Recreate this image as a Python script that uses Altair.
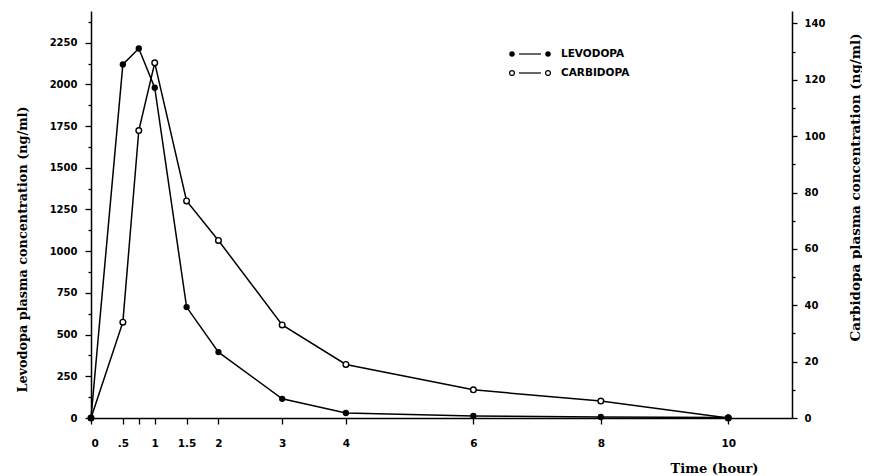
import altair as alt
import pandas as pd

# ---- data ----
time_h = [0, 0.5, 0.75, 1, 1.5, 2, 3, 4, 6, 8, 10]
levodopa = [0, 2120, 2215, 1980, 665, 395, 115, 30, 12, 6, 3]
carbidopa = [0, 34, 102, 126, 77, 63, 33, 19, 10, 6, 0]
series_names = ["LEVODOPA", "CARBIDOPA"]
x_ticks = [0, 0.5, 0.75, 1, 1.5, 2, 3, 4, 6, 8, 10]
left_ticks = list(range(0, 2376, 125))
right_ticks = list(range(0, 141, 10))

df = pd.DataFrame({"time": time_h, "levodopa": levodopa, "carbidopa": carbidopa})
legend_df = pd.DataFrame({"name": series_names})

W, H = 701, 407
TITLE_FONT = "DejaVu Serif"
LABEL_FONT = "DejaVu Sans"

x_axis = alt.Axis(
    values=x_ticks,
    labelExpr="datum.value == 0.75 ? '' : (datum.value == 0.5 ? '.5' : '' + datum.value)",
    tickSize=6, labelPadding=14, labelFontSize=10.5, labelFont=LABEL_FONT, labelFontWeight="bold",
    title="Time (hour)", titleFont=TITLE_FONT, titleFontSize=13, titleFontWeight="bold",
    titleAlign="right", titleAnchor="end", titleX=667, titleY=50, titleBaseline="middle",
    grid=False, domainColor="black", tickColor="black", labelColor="black", titleColor="black",
    domainWidth=1.5, tickWidth=1.3,
)
x_enc = alt.X("time:Q", scale=alt.Scale(domain=[0, 11], nice=False, zero=False), axis=x_axis)

left_axis = alt.Axis(
    orient="left", values=left_ticks,
    labelExpr="datum.value % 250 === 0 ? '' + datum.value : ''",
    tickSize={"condition": {"test": "datum.value % 250 === 0", "value": 6}, "value": 3},
    labelPadding=8, labelFontSize=10, labelFont=LABEL_FONT, labelFontWeight="bold",
    title="Levodopa plasma concentration (ng/ml)", titleFont=TITLE_FONT, titleFontSize=12.8,
    titleFontWeight="bold", titleAngle=270, titleX=-69, titleY=238, titleAlign="center",
    titleBaseline="middle",
    grid=False, domainColor="black", tickColor="black", labelColor="black", titleColor="black",
    domainWidth=1.5, tickWidth=1.3,
)
right_axis = alt.Axis(
    orient="right", values=right_ticks,
    labelExpr="datum.value % 20 === 0 ? '' + datum.value : ''",
    tickSize={"condition": {"test": "datum.value % 20 === 0", "value": 5}, "value": 3},
    labelPadding=7, labelFontSize=10, labelFont=LABEL_FONT, labelFontWeight="bold",
    title="Carbidopa plasma concentration (ng/ml)", titleFont=TITLE_FONT, titleFontSize=13.5,
    titleFontWeight="bold", titleAngle=270, titleX=63, titleY=176, titleAlign="center",
    titleBaseline="middle",
    grid=False, domainColor="black", tickColor="black", labelColor="black", titleColor="black",
    domainWidth=1.5, tickWidth=1.3,
)

lev_y = alt.Y("levodopa:Q", scale=alt.Scale(domain=[0, 2440], nice=False), axis=left_axis)
car_y = alt.Y("carbidopa:Q", scale=alt.Scale(domain=[0, 144.4], nice=False), axis=right_axis)

base = alt.Chart(df)
car = alt.layer(
    base.mark_line(color="black", strokeWidth=1.5).encode(x=x_enc, y=car_y),
    base.mark_point(shape="circle", filled=True, fill="white", stroke="black",
                    strokeWidth=1.4, size=32, opacity=1).encode(x=x_enc, y=car_y),
)
lev = alt.layer(
    base.mark_line(color="black", strokeWidth=1.5).encode(x=x_enc, y=lev_y),
    base.mark_point(shape="circle", filled=True, color="black", size=40,
                    opacity=1).encode(x=x_enc, y=lev_y),
)

# ---- hand-drawn style legend ----
leg = alt.Chart(legend_df)
rows = {"LEVODOPA": 43, "CARBIDOPA": 62}
legend_layers = []
for name in series_names:
    yy = rows[name]
    sub = leg.transform_filter(alt.datum.name == name)
    if name == "LEVODOPA":
        pt = sub.mark_point(shape="circle", filled=True, color="black", size=30, opacity=1)
    else:
        pt = sub.mark_point(shape="circle", filled=True, fill="white", stroke="black",
                            strokeWidth=1.2, size=24, opacity=1)
    legend_layers += [
        pt.encode(x=alt.value(421), y=alt.value(yy)),
        pt.encode(x=alt.value(457), y=alt.value(yy)),
        sub.mark_rule(color="black", strokeWidth=1.2).encode(
            x=alt.value(428), x2=alt.value(450), y=alt.value(yy)),
        sub.mark_text(align="left", baseline="middle", font=LABEL_FONT, fontSize=10.5,
                      fontWeight="bold", color="black").encode(
            x=alt.value(470), y=alt.value(yy), text="name:N"),
    ]

chart = alt.layer(car, lev, *legend_layers).resolve_scale(y="independent").properties(
    width=W, height=H,
    autosize=alt.AutoSizeParams(type="none"),
    padding={"left": 83, "top": 3, "right": 70, "bottom": 60},
    background="white",
).configure_view(stroke=None)

chart.save("out.html", embed_options={"renderer": "svg", "actions": False})
